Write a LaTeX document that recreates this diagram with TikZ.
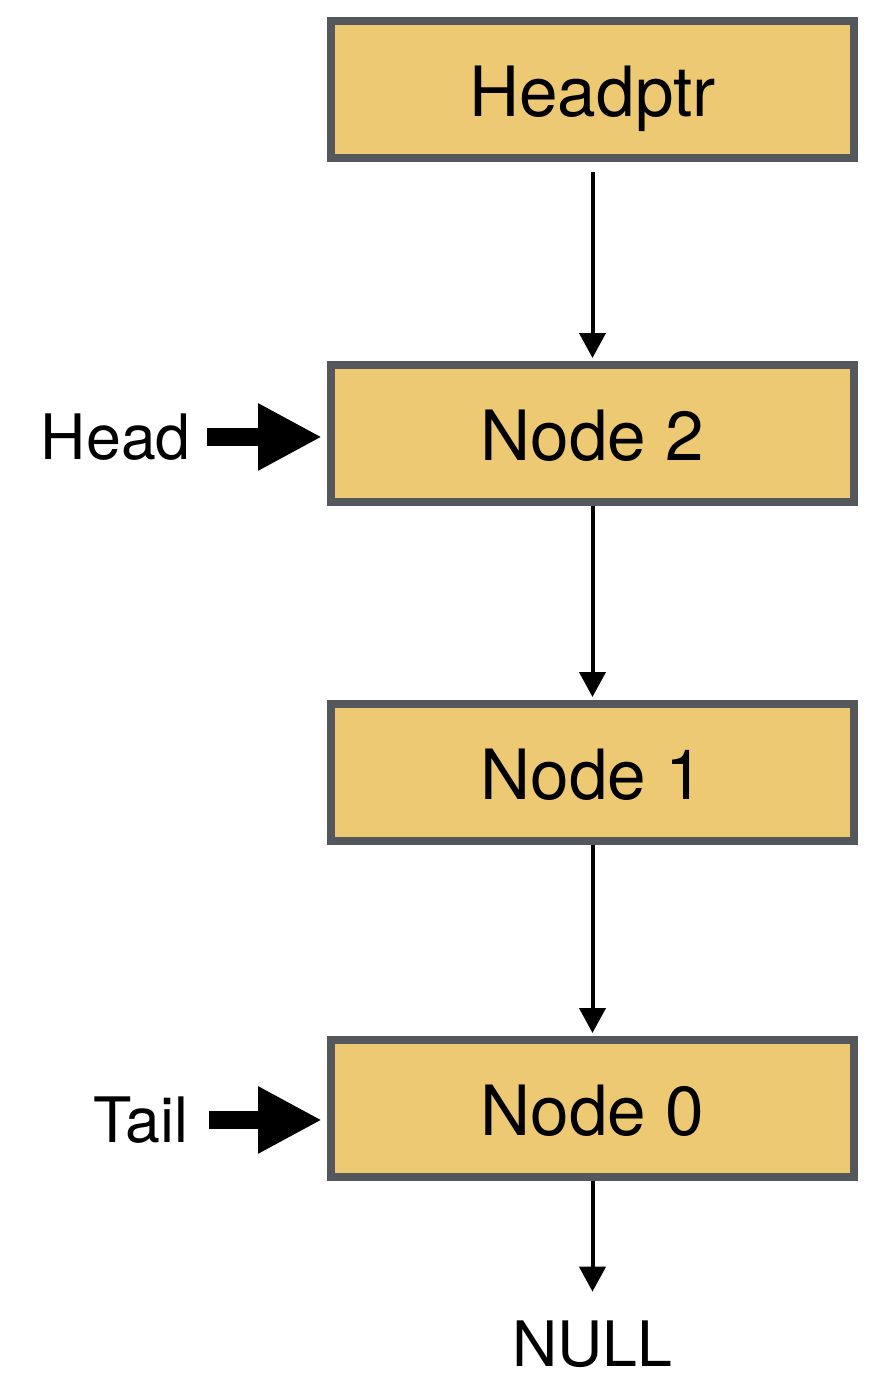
\documentclass[tikz,border=0pt]{standalone}
\usepackage{fontspec}
\setmainfont{TeX Gyre Heros}
\usepackage{xcolor}
\usepackage{tikz}
\usetikzlibrary{positioning, arrows.meta}

\definecolor{boxfill}{HTML}{EDC973}
\definecolor{boxline}{HTML}{54575C}

\begin{document}
\begin{tikzpicture}[
  x=0.75pt, y=-0.75pt,
  font=\fontsize{52}{60}\selectfont,
  listnode/.style={draw=boxline, fill=boxfill, line width=6pt,
    minimum width=392.25pt, minimum height=102.75pt, inner sep=0pt,
    text height=44pt, text depth=3.5pt},
  link/.style={-{Triangle[width=19.5pt, length=18.75pt]}, line width=3pt},
  marker/.style={font=\fontsize{47}{56}\selectfont, inner sep=0pt,
    text height=33.7pt, text depth=0pt},
  bigarrow/.style={-{Triangle[width=47pt, length=48pt]}, line width=13.5pt},
]
  \useasboundingbox (0,0) rectangle (869,1374);
  \node[listnode] (hp) at (592.5,89.5) {Headptr};
  \node[listnode, below=149.25pt of hp] (n2) {Node 2};
  \node[listnode, below=145.5pt of n2]  (n1) {Node 1};
  \node[listnode, below=143.25pt of n1] (n0) {Node 0};
  \node[marker, below=105pt of n0]      (null) {NULL};
  \node[marker, left=102pt of n2, yshift=-2.6pt]  (head) {Head};
  \node[marker, left=104pt of n0, yshift=-8.6pt]  (tail) {Tail};

  \draw[link, shorten <=7.5pt, shorten >=2.25pt] (hp.south) -- (n2.north);
  \draw[link, shorten >=2.25pt] (n2.south) -- (n1.north);
  \draw[link, shorten >=2.25pt] (n1.south) -- (n0.north);
  \draw[link, shorten >=22pt] (n0.south) -- (null.north);
  \draw[bigarrow, shorten <=12pt, shorten >=3.75pt] (head.east) -- (head.east -| n2.west);
  \draw[bigarrow, shorten <=15.5pt, shorten >=3.75pt] (tail.east) -- (tail.east -| n0.west);
\end{tikzpicture}
\end{document}
